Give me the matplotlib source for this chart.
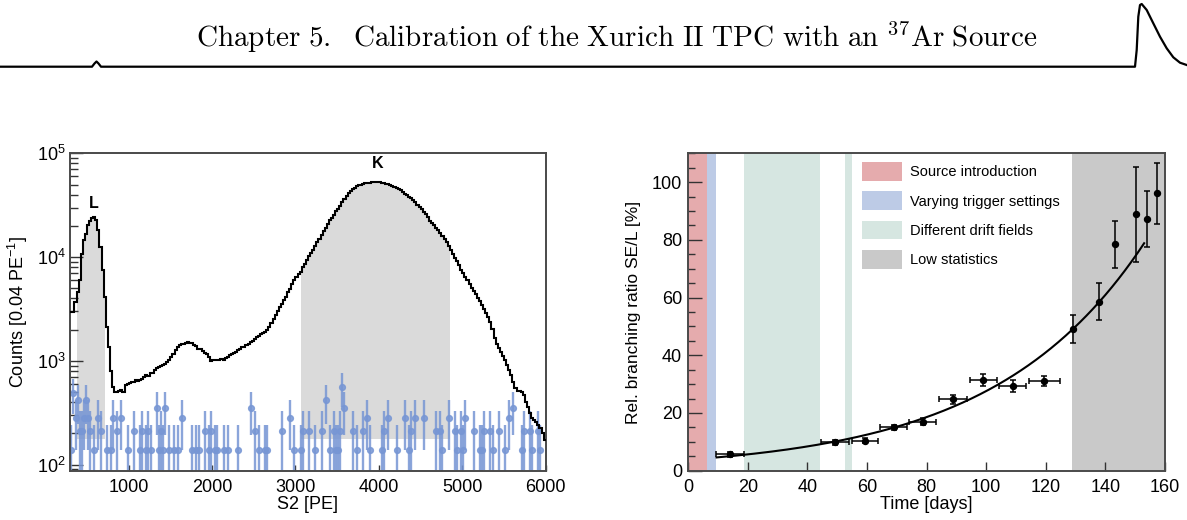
import numpy as np
import matplotlib
matplotlib.use("Agg")
import matplotlib.pyplot as plt
from matplotlib.patches import Patch
from matplotlib.ticker import LogLocator, LogFormatterMathtext, NullFormatter, MultipleLocator, FixedLocator

plt.rcParams['font.family'] = ['Liberation Sans', 'DejaVu Sans']
plt.rcParams['mathtext.fontset'] = 'custom'
plt.rcParams['mathtext.rm'] = 'Liberation Sans'
plt.rcParams['mathtext.it'] = 'Liberation Sans:italic'
plt.rcParams['mathtext.bf'] = 'Liberation Sans:bold'

# ---------------------------------------------------------------- S2 spectrum
s2_lo = 300.0          # PE, lower edge of first bin
s2_bin = 25.0          # PE per bin  (0.04 PE^-1)
s2_counts = [
    2960, 2960, 3690, 4600, 5970, 10800, 14500, 16800, 20200, 22500, 23900,
    24600, 22900, 18100, 12500, 7450, 4120, 2120, 1360, 800, 560, 504,
    504, 510, 522, 504, 583, 605, 619, 628, 628, 652, 643, 652, 662, 701,
    728, 713, 757, 767, 826, 845, 865, 889, 910, 929, 977, 1016,
    1079, 1159, 1268, 1365, 1416, 1439, 1469, 1489, 1524, 1489, 1489, 1416,
    1384, 1315, 1288, 1247, 1194, 1159, 1091, 1000, 1016, 1030, 1030, 1016,
    1054, 1030, 1062, 1091, 1135, 1159, 1194, 1222, 1268, 1315, 1346, 1365,
    1416, 1469, 1524, 1556, 1641, 1702, 1730, 1807, 1858, 1901, 1972,
    2140, 2340, 2510, 2750, 3020, 3270, 3560, 3890, 4170, 4600, 4900, 5500,
    5970, 6430, 6920, 7180,
    8020, 8630, 9430, 10150, 10900, 11580, 12650, 13830, 15000, 16150, 17780,
    19140, 20930, 22530, 23880, 25700, 27700, 29200, 31400, 33800, 36400,
    39200, 41200, 43100, 45000, 46800, 48200, 49200, 50000, 50700, 51400,
    51900, 52200, 52600, 52800, 53000, 53000,
    52600, 52200, 51600, 51000, 50300, 49600, 48900, 47800, 46800, 45400,
    44100, 42500, 40900, 39400, 38000, 37000, 35600, 33800, 32100, 30500,
    29000, 27300, 26100, 24300, 22500, 21400, 20200, 19100, 18100, 17000,
    15800, 14800, 13900, 12700, 11600, 10800, 9860, 9160, 8320, 7560, 7020,
    6430, 5970, 5470, 5080, 4720, 4390, 4070, 3780, 3490, 3190, 2900, 2650,
    2370, 2050,
    1660, 1450, 1325, 1213, 1110, 1016, 910, 826, 728, 628, 543, 515, 510,
    504, 468, 404, 361, 312, 279, 269, 259, 241, 224, 200, 173,
]

# background-only spectrum (raw counts per bin, scaled to the source run)
bg_s2 = [
    312.5, 337.5, 362.5, 387.5, 412.5, 437.5, 462.5, 487.5, 512.5, 537.5,
    587.5, 637.5, 662.5, 737.5, 787.5, 812.5, 862.5, 912.5, 987.5, 1062.5,
    1137.5, 1162.5, 1212.5, 1237.5, 1262.5, 1337.5, 1362.5, 1387.5, 1412.5, 1437.5,
    1487.5, 1537.5, 1587.5, 1637.5, 1762.5, 1812.5, 1837.5, 1912.5, 1962.5, 1987.5,
    2037.5, 2062.5, 2137.5, 2187.5, 2312.5, 2462.5, 2512.5, 2562.5, 2637.5, 2662.5,
    2837.5, 2937.5, 2987.5,
    3062.5, 3087.5, 3162.5, 3237.5, 3312.5, 3362.5, 3412.5, 3462.5, 3487.5, 3512.5,
    3537.5, 3562.5, 3587.5, 3687.5, 3737.5, 3812.5, 3862.5, 3887.5, 4037.5, 4062.5,
    4112.5, 4212.5, 4312.5, 4362.5, 4387.5, 4437.5, 4537.5, 4687.5, 4737.5, 4762.5,
    4837.5, 4912.5, 4937.5, 4987.5, 5012.5, 5037.5, 5137.5, 5212.5, 5237.5, 5262.5,
    5337.5, 5362.5, 5437.5, 5512.5, 5562.5, 5612.5, 5712.5, 5737.5, 5812.5, 5837.5,
    5912.5, 5937.5,
]
bg_counts = [
    2, 7, 4, 6, 3, 3, 4, 6, 4, 3,
    2, 4, 3, 2, 2, 4, 3, 4, 2, 3,
    2, 3, 2, 3, 2, 5, 2, 3, 2, 5,
    2, 2, 2, 4, 2, 2, 2, 3, 2, 3,
    2, 2, 2, 2, 2, 5, 3, 2, 2, 2,
    3, 4, 2,
    2, 3, 3, 2, 3, 6, 2, 3, 2, 2,
    3, 8, 5, 3, 2, 3, 4, 2, 2, 3,
    4, 2, 4, 2, 3, 4, 4, 3, 3, 2,
    4, 3, 2, 3, 2, 4, 3, 2, 2, 3,
    3, 2, 3, 2, 4, 5, 2, 3, 3, 2,
    3, 2,
]
bg_norm = 70.0          # live-time scaling of the background run

l_window = (375.0, 712.5)     # L-shell selection [PE]
k_window = (3062.5, 4850.0)   # K-shell selection [PE]
shade_floor = 175.0

# ------------------------------------------------- SE / L branching ratio
time_days = [14.0, 49.2, 59.3, 69.0, 78.7, 89.0, 99.0, 108.9, 119.4,
             129.0, 138.0, 143.3, 150.2, 154.1, 157.3]
time_err = [4.85, 4.8, 4.5, 4.5, 4.6, 4.7, 4.5, 4.5, 5.2,
            0, 0, 0, 0, 0, 0]
ratio = [5.7, 9.8, 10.4, 15.0, 17.0, 24.7, 31.4, 29.4, 31.1,
         49.1, 58.6, 78.5, 88.9, 87.3, 96.1]
ratio_err = [0.8, 0.8, 0.9, 1.0, 1.2, 1.5, 2.0, 2.0, 1.8,
             5.0, 6.5, 8.2, 16.4, 9.8, 10.7]

fit_amplitude = 3.81     # %
fit_tau = 50.5           # days (37Ar mean lifetime)
fit_range = (9.5, 153.0)

band_labels = ["Source introduction", "Varying trigger settings",
               "Different drift fields", "Different drift fields", "Low statistics"]
band_start = [0.0, 6.15, 18.7, 52.5, 128.9]
band_end = [6.15, 9.3, 44.2, 54.9, 160.0]
band_colors = ['#e5abad', '#bdcbe6', '#d6e6e1', '#d6e6e1', '#c9c9c9']

# ------------------------------------------------------ page header
header_x = [0, 92, 94.5, 96.5, 98.5, 101, 1135, 1136.7, 1138.3, 1140, 1141.7,
            1146.7, 1153.3, 1160, 1166.7, 1173.3, 1180, 1186.7]
header_y = [66.7, 66.7, 63.5, 61.5, 63.5, 66.7, 66.7, 50, 16.7, 5, 4,
            10, 23.3, 36.7, 48.3, 57.3, 62.7, 65]

W, H = 1187, 520
fig = plt.figure(figsize=(W / 100, H / 100), dpi=100)

hdr = fig.add_axes([0, 0, 1, 1])
hdr.set_xlim(0, W)
hdr.set_ylim(H, 0)
hdr.axis('off')
hdr.plot(header_x, header_y, color='black', lw=1.6, solid_joinstyle='round')
hdr.text(617, 37,
         r'$\mathrm{Chapter\ 5.\ \ Calibration\ of\ the\ Xurich\ II\ TPC\ with\ an}\ {}^{37}\mathrm{Ar\ Source}$',
         math_fontfamily='cm', fontsize=21, ha='center', va='center')

spine_col = '#4a4a4a'
tick_col = '#333333'


def style_axes(ax):
    for s in ax.spines.values():
        s.set_color(spine_col)
        s.set_linewidth(1.4)
    ax.tick_params(which='both', direction='in', top=False, right=False,
                   colors=tick_col, labelcolor='black', labelsize=13, width=1.0)


# ------------------------------------------------------ left: spectrum
ax1 = fig.add_axes([70.3 / W, 49.3 / H, 475.4 / W, 317.4 / H])
style_axes(ax1)
counts = np.array(s2_counts, dtype=float)
edges = s2_lo + s2_bin * np.arange(len(counts) + 1)

for lo, hi in (l_window, k_window):
    idx = np.where((edges[1:] > lo) & (edges[:-1] < hi))[0]
    xs = np.clip(np.r_[edges[idx], edges[idx[-1] + 1]], lo, hi)
    ys = np.r_[counts[idx], counts[idx[-1]]]
    ax1.fill_between(xs, shade_floor, ys, step='post', facecolor='#dadada',
                     lw=0, zorder=1)

bg_vals = np.array(bg_counts) * bg_norm
bg_errs = np.sqrt(bg_counts) * bg_norm
ax1.errorbar(bg_s2, bg_vals, yerr=bg_errs, fmt='o', ms=4.2, color='#7796d4',
             ecolor='#7796d4', elinewidth=1.7, capsize=0, alpha=0.85, zorder=2)

ax1.stairs(counts, edges, baseline=None, color='black', lw=1.5, zorder=3)

ax1.set_yscale('log')
ax1.set_xlim(300, 6000)
ax1.set_ylim(87.5, 1e5)
ax1.xaxis.set_major_locator(FixedLocator([1000, 2000, 3000, 4000, 5000, 6000]))
ax1.xaxis.set_minor_locator(FixedLocator([]))
ax1.yaxis.set_major_locator(LogLocator(base=10))
ax1.yaxis.set_major_formatter(LogFormatterMathtext())
ax1.yaxis.set_minor_locator(LogLocator(base=10, subs=np.arange(2, 10)))
ax1.yaxis.set_minor_formatter(NullFormatter())
ax1.tick_params(axis='y', which='major', length=9.5, pad=3.5)
ax1.tick_params(axis='y', which='minor', length=5.5)
ax1.tick_params(axis='x', which='major', length=4.5, pad=6)

ax1.set_xlabel('S2 [PE]', fontsize=13, va='center')
ax1.xaxis.set_label_coords(0.5, -0.108)
ax1.set_ylabel(r'Counts [0.04 PE$^{-1}$]', fontsize=13, va='center')
ax1.yaxis.set_label_coords(-0.110, 0.5)

ax1.text(584, 32800, 'L', fontsize=11.5, fontweight='bold', ha='center', va='center')
ax1.text(3990, 79600, 'K', fontsize=11.5, fontweight='bold', ha='center', va='center')

# ------------------------------------------------------ right: SE/L ratio
ax2 = fig.add_axes([688.3 / W, 49.3 / H, 476.7 / W, 317.4 / H])
style_axes(ax2)
for a, b, c in zip(band_start, band_end, band_colors):
    ax2.axvspan(a, b, facecolor=c, lw=0, zorder=0)

t = np.linspace(fit_range[0], fit_range[1], 400)
ax2.plot(t, fit_amplitude * np.exp(t / fit_tau), color='black', lw=1.5, zorder=3)

td = np.array(time_days)
te = np.array(time_err)
rv = np.array(ratio)
re = np.array(ratio_err)
hx = te > 0
ax2.errorbar(td[hx], rv[hx], xerr=te[hx], yerr=re[hx], fmt='o', ms=4.3,
             color='black', elinewidth=1.1, capsize=2.4, capthick=1.1, zorder=4)
ax2.errorbar(td[~hx], rv[~hx], yerr=re[~hx], fmt='o', ms=4.3,
             color='black', elinewidth=1.1, capsize=2.4, capthick=1.1, zorder=4)

ax2.set_xlim(0, 160)
ax2.set_ylim(0, 110)
ax2.xaxis.set_major_locator(MultipleLocator(20))
ax2.yaxis.set_major_locator(MultipleLocator(20))
ax2.yaxis.set_minor_locator(MultipleLocator(5))
ax2.tick_params(axis='y', which='major', length=10, pad=4.5)
ax2.tick_params(axis='y', which='minor', length=5)
ax2.tick_params(axis='x', which='major', length=6.5, pad=6)

ax2.set_xlabel('Time [days]', fontsize=13, va='center')
ax2.xaxis.set_label_coords(0.5, -0.108)
ax2.set_ylabel('Rel. branching ratio SE/L [%]', fontsize=12.5, va='center')
ax2.yaxis.set_label_coords(-0.114, 0.5)

seen = {}
for lab, c in zip(band_labels, band_colors):
    if lab not in seen:
        seen[lab] = Patch(facecolor=c, edgecolor='none', label=lab)
ax2.legend(handles=list(seen.values()), loc='upper left',
           bbox_to_anchor=(0.364, 0.972), frameon=False, fontsize=10.5,
           handlelength=2.75, handleheight=1.6, handletextpad=0.55,
           labelspacing=0.72, borderpad=0, borderaxespad=0)

fig.savefig('out.png', dpi=100)
